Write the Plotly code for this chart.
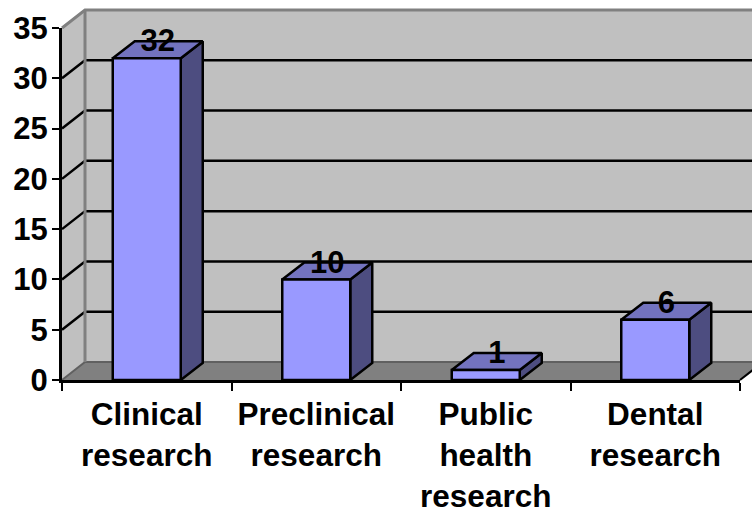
import plotly.graph_objects as go

categories = ["Clinical<br>research", "Preclinical<br>research", "Public<br>health<br>research", "Dental<br>research"]
values = [32, 10, 1, 6]
y_ticks = [0, 5, 10, 15, 20, 25, 30, 35]

W, H = 752, 510
X0_PX, X1_PX, Y0_PX, Y1_PX = 62, 740, 380, 28   # front plane of the chart box
N = len(categories)
YMAX = y_ticks[-1]
PX_PER_CAT = (X1_PX - X0_PX) / N
PX_PER_VAL = (Y0_PX - Y1_PX) / YMAX
DX = 23 / PX_PER_CAT      # depth of the 3D box, in category units
DY = 18 / PX_PER_VAL      # depth of the 3D box, in value units
BAR_W = 68 / PX_PER_CAT
BAR_DX = 22 / PX_PER_CAT
BAR_DY = 17 / PX_PER_VAL
LABEL_DROP = 2.5 / PX_PER_VAL

FRONT, TOP, SIDE = "#9999FF", "#7373BF", "#4D4D80"
WALL, FLOOR, EDGE = "#C0C0C0", "#808080", "#808080"

fig = go.Figure()


def poly(xs, ys, fill, line="rgba(0,0,0,0)", lw=0):
    fig.add_trace(go.Scatter(x=xs, y=ys, mode="lines", fill="toself", fillcolor=fill,
                             line=dict(color=line, width=lw),
                             hoverinfo="skip", showlegend=False))


def path(xs, ys, color, lw):
    fig.add_trace(go.Scatter(x=xs, y=ys, mode="lines", line=dict(color=color, width=lw),
                             hoverinfo="skip", showlegend=False))


# walls and floor
poly([0, DX, DX, 0], [0, DY, YMAX + DY, YMAX], WALL)
poly([DX, N + DX, N + DX, DX], [DY, DY, YMAX + DY, YMAX + DY], WALL)
poly([0, N, N + DX, DX], [0, 0, DY, DY], FLOOR)

# gridlines
for v in y_ticks[1:-1]:
    path([0, DX, N + DX], [v, v + DY, v + DY], "#000000", 2.5)
path([0, DX, N + DX], [0, DY, DY], "#606060", 2)
path([DX, DX], [DY, YMAX + DY], EDGE, 3)
path([0, DX, N + DX], [YMAX, YMAX + DY, YMAX + DY], EDGE, 3)
path([N, N + DX], [0, DY], "#000000", 2)

# bar depth faces
for i, v in enumerate(values):
    c = i + 0.5
    l, r = c - BAR_W / 2, c + BAR_W / 2
    poly([r, r + BAR_DX, r + BAR_DX, r, r], [0, BAR_DY, v + BAR_DY, v, 0], SIDE, "#000000", 2.5)
    poly([l, r, r + BAR_DX, l + BAR_DX, l], [v, v, v + BAR_DY, v + BAR_DY, v], TOP, "#000000", 2.5)

# bar front faces on the visible axes
fig.add_trace(go.Bar(x=[i + 0.5 for i in range(N)], y=values, width=BAR_W, xaxis="x2", yaxis="y2",
                     marker=dict(color=FRONT, line=dict(color="#000000", width=2.5)),
                     hoverinfo="skip", showlegend=False))

# value labels
fig.add_trace(go.Scatter(
    x=[i + 0.5 + BAR_DX / 2 for i in range(N)],
    y=[v + BAR_DY - LABEL_DROP for v in values],
    text=[str(v) for v in values], xaxis="x2", yaxis="y2",
    mode="text", textposition="middle center",
    textfont=dict(family="Liberation Sans", size=31, color="#000000", weight="bold"),
    cliponaxis=False, hoverinfo="skip", showlegend=False))

fig.update_layout(
    width=W, height=H, margin=dict(l=0, r=0, t=0, b=0), autosize=False,
    paper_bgcolor="#FFFFFF", plot_bgcolor="rgba(0,0,0,0)", showlegend=False,
    font=dict(family="Liberation Sans", size=31, color="#000000", weight="bold"),
    # hidden full-canvas axes: same scale as the visible axes, so the box may overflow them
    xaxis=dict(domain=[0, 1], visible=False, automargin=False,
               range=[-X0_PX / PX_PER_CAT, (W - X0_PX) / PX_PER_CAT]),
    yaxis=dict(domain=[0, 1], visible=False, automargin=False,
               range=[(Y0_PX - H) / PX_PER_VAL, Y0_PX / PX_PER_VAL]),
    xaxis2=dict(domain=[X0_PX / W, X1_PX / W], range=[0, N], anchor="y2", showgrid=False, zeroline=False,
                automargin=False, showline=True, linecolor="#000000", linewidth=3,
                tickmode="array", tickvals=[i + 0.5 for i in range(N)], ticktext=categories,
                ticks="", ticklabelstandoff=4,
                tickfont=dict(family="Liberation Sans", size=31.5, color="#000000", weight="bold"),
                minor=dict(tickmode="array", tickvals=list(range(N + 1)), ticks="outside",
                           ticklen=8, tickwidth=2, tickcolor="#000000", showgrid=False)),
    yaxis2=dict(domain=[1 - Y0_PX / H, 1 - Y1_PX / H], range=[0, YMAX], anchor="x2", showgrid=False,
                zeroline=False, automargin=False, showline=True, linecolor="#000000", linewidth=3,
                tickmode="array", tickvals=y_ticks, ticks="outside", ticklen=7, tickwidth=2,
                tickcolor="#000000", ticklabelstandoff=-2),
)

fig.write_html("out.html", config={"displayModeBar": False},
               post_script="document.body.style.margin='0';document.body.style.overflow='hidden';")
